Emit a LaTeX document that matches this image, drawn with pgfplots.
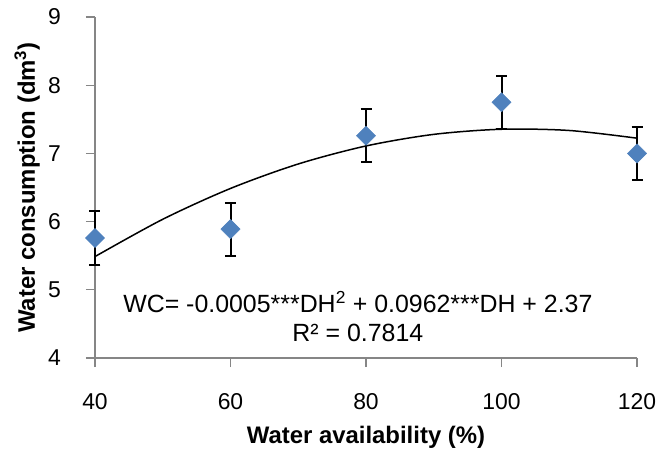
\documentclass[border=0pt]{standalone}
\usepackage{fontspec}
\setmainfont{Liberation Sans}
\usepackage{pgfplots}
\pgfplotsset{compat=1.18}
\definecolor{mkblue}{HTML}{4F81BD}
\definecolor{axgray}{HTML}{868686}
\begin{document}
\begin{tikzpicture}
\begin{axis}[
  scale only axis, width=542bp, height=341bp,
  xmin=40, xmax=120, ymin=4, ymax=9,
  xtick={40,60,80,100,120}, ytick={4,5,6,7,8,9},
  axis x line*=bottom, axis y line*=left,
  axis line style={axgray, line width=1.2bp},
  tick style={axgray, line width=1.2bp},
  tick align=outside, major tick length=9bp,
  /pgf/number format/assume math mode=true,
  ticklabel style={font=\fontsize{23}{23}\selectfont, text=black, inner sep=0pt},
  xticklabel style={anchor=center, yshift=-35bp},
  yticklabel style={anchor=east, xshift=-25bp},
  xlabel={\textbf{Water availability (\%)}},
  ylabel={\textbf{Water consumption (dm\textsuperscript{3})}},
  label style={font=\fontsize{24}{24}\selectfont, inner sep=0pt},
  xlabel style={at={([yshift=-85bp]axis description cs:0.5,0)}, anchor=base},
  ylabel style={at={([xshift=-60bp]axis description cs:0,0.5)}, anchor=base},
  clip=false,
]
\addplot[smooth, black, line width=1.5bp] coordinates {
  (40,5.487) (50,6.034) (60,6.486) (70,6.845) (80,7.109)
  (90,7.279) (100,7.354) (110,7.336) (120,7.223)};
\addplot[only marks, mark=square*, mark size=6.8bp,
  mark options={rotate=45, fill=mkblue, draw=mkblue},
  error bars/.cd, y dir=both, y explicit,
  error bar style={black, line width=2bp},
  error mark options={rotate=90, black, line width=2bp, mark size=5.5bp}]
  coordinates {
  (40,5.76) +- (0,0.39)
  (60,5.89) +- (0,0.39)
  (80,7.26) +- (0,0.39)
  (100,7.75) +- (0,0.39)
  (120,7.00) +- (0,0.39)};
\node[font=\fontsize{25}{25}\selectfont, anchor=base, inner sep=0pt] at (axis cs:78.8,4.674)
  {WC= -0.0005***DH\textsuperscript{2} + 0.0962***DH + 2.37};
\node[font=\fontsize{25}{25}\selectfont, anchor=base, inner sep=0pt] at (axis cs:78.8,4.235)
  {R² = 0.7814};
\end{axis}
\pgfresetboundingbox
\path[use as bounding box] ([shift={(-95bp,-93bp)}]current axis.south west) rectangle ++(659bp,451bp);
\end{tikzpicture}
\end{document}
